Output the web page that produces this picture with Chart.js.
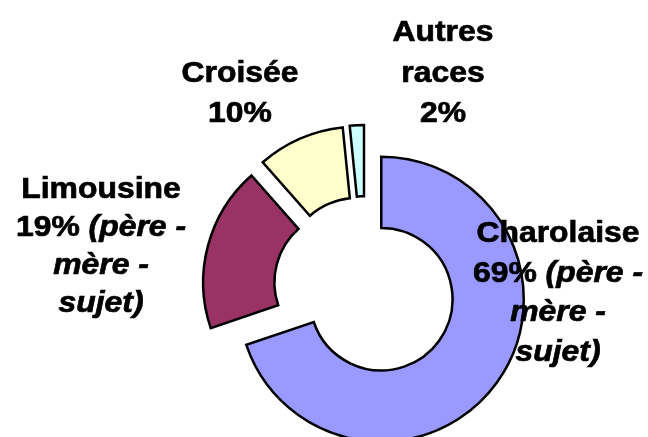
<!DOCTYPE html>
<html lang="fr">
<head>
    <meta charset="UTF-8">
    <title>Races</title>
    <script src="https://cdn.jsdelivr.net/npm/chart.js"></script>
    <style>
        *{
            margin: 0;
            padding: 0;
        }
        body, html{
            width: 648px;
            height: 437px;
            overflow: hidden;
            background-color: white;
        }
        #wrap{
            position: relative;
            width: 648px;
            height: 437px;
        }
    </style>
</head>
<body>
    <div id="wrap"><canvas id="chart"></canvas></div>
    <script>
        // data
        const races = ["Charolaise", "Limousine", "Croisée", "Autres races"]
        const shares = [69.8, 18.7, 9.9, 1.6]
        const colors = ["#9999FF", "#993366", "#FFFFCC", "#CCFFFF"]
        // label lines: [text, italic]
        const labelLines = [
            [[["Charolaise", false]], [["69% ", false], ["(père -", true]], [["mère -", true]], [["sujet)", true]]],
            [[["Limousine", false]], [["19% ", false], ["(père -", true]], [["mère -", true]], [["sujet)", true]]],
            [[["Croisée", false]], [["10%", false]]],
            [[["Autres", false]], [["races", false]], [["2%", false]]]
        ]
        // where each label block sits: centre x, first baseline, line step
        const labelPos = [
            {x: 558, y: 242, step: 39.5},
            {x: 101, y: 198, step: 38},
            {x: 240, y: 82, step: 40},
            {x: 443, y: 41, step: 40.5}
        ]

        const EXPLODE = 20

        // draws every slice pulled out along its middle angle
        const explode = {
            id: "explode",
            beforeDatasetDraw(chart, args){
                const ctx = chart.ctx
                args.meta.data.forEach(arc => {
                    const mid = (arc.startAngle + arc.endAngle) / 2
                    ctx.save()
                    ctx.translate(Math.cos(mid) * EXPLODE, Math.sin(mid) * EXPLODE)
                    arc.draw(ctx)
                    ctx.restore()
                })
                return false
            }
        }

        function fontFor(italic){
            return (italic ? "italic " : "") + "bold 29px 'Liberation Sans', Arial, sans-serif"
        }

        const labels = {
            id: "labels",
            afterDraw(chart){
                const ctx = chart.ctx
                ctx.save()
                ctx.fillStyle = "#000"
                ctx.strokeStyle = "#000"
                ctx.lineWidth = 0.7
                ctx.textBaseline = "alphabetic"
                ctx.textAlign = "left"
                labelLines.forEach((block, i) => {
                    const p = labelPos[i]
                    block.forEach((line, j) => {
                        let w = 0
                        line.forEach(seg => {
                            ctx.font = fontFor(seg[1])
                            w += ctx.measureText(seg[0]).width
                        })
                        ctx.save()
                        ctx.translate(p.x, p.y + j * p.step)
                        ctx.scale(1.1, 1)
                        let x = -w / 2
                        line.forEach(seg => {
                            ctx.font = fontFor(seg[1])
                            ctx.fillText(seg[0], x, 0)
                            ctx.strokeText(seg[0], x, 0)
                            x += ctx.measureText(seg[0]).width
                        })
                        ctx.restore()
                    })
                })
                ctx.restore()
            }
        }

        const chart = new Chart(document.getElementById("chart"), {
            type: "doughnut",
            data: {
                labels: races,
                datasets: [{
                    data: shares,
                    backgroundColor: colors,
                    borderColor: "#000",
                    borderWidth: 2.5,
                    borderJoinStyle: "miter"
                }]
            },
            options: {
                responsive: true,
                maintainAspectRatio: false,
                animation: false,
                radius: 142.5,
                cutout: "50%",
                layout: {padding: {left: 82, top: 138, right: 0, bottom: 0}},
                plugins: {
                    legend: {display: false},
                    tooltip: {enabled: false}
                },
                events: []
            },
            plugins: [explode, labels]
        })
    </script>
</body>
</html>
